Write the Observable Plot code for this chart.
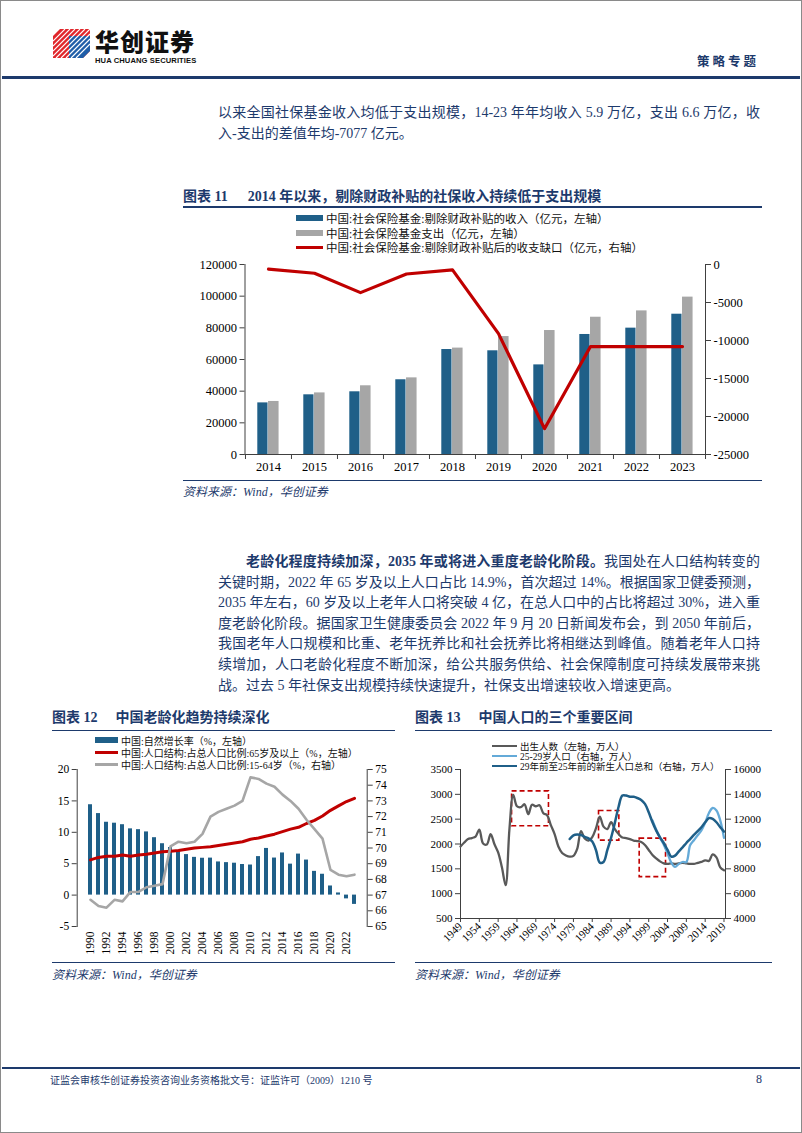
<!DOCTYPE html>
<html lang="zh-CN">
<head>
<meta charset="utf-8">
<script src="https://cdn.jsdelivr.net/npm/d3@7"></script>
<script src="https://cdn.jsdelivr.net/npm/@observablehq/plot@0.6"></script>
<style>
html,body{margin:0;padding:0;background:#fff;}
#page{position:relative;width:802px;height:1133px;overflow:hidden;background:#fff;
  font-family:"Liberation Serif","Noto Sans CJK SC",serif;color:#1d3a6c;}
.frame{position:absolute;left:0;top:0;width:802px;height:1133px;box-sizing:border-box;border:1px solid #8a8a8a;pointer-events:none;z-index:20;}
.abs{position:absolute;white-space:nowrap;}
.rule{position:absolute;background:#1d3a6c;}
.p{position:absolute;left:218px;width:542px;font-size:14px;line-height:20px;height:20px;}
.j{text-align:justify;text-align-last:justify;}
.ttl{position:absolute;font-size:14px;font-weight:bold;line-height:20px;white-space:nowrap;}
.src{position:absolute;font-size:12px;font-style:italic;line-height:14px;white-space:nowrap;}
.leg{position:absolute;display:flex;align-items:center;color:#111;white-space:nowrap;z-index:5;}
.sw{display:inline-block;margin-right:3px;}
.chart{position:absolute;z-index:2;}
.chart svg{overflow:visible;}
</style>
</head>
<body>
<div id="page">
  <div class="frame"></div>
  <!-- header -->
  <svg class="abs" style="left:53px;top:29px" width="38" height="30" viewBox="0 0 38 30">
    <polygon points="0,7 7,0 37,0 37,22 30,29 0,29" fill="#e0262b"/>
    <polygon points="16,7 37,7 37,22 30,29 16,29" fill="#1f5ea8"/>
    <g stroke="#fff" stroke-width="1.1">
      <line x1="0" y1="12" x2="12" y2="0"/><line x1="0" y1="17" x2="17" y2="0"/>
      <line x1="0" y1="22" x2="22" y2="0"/><line x1="0" y1="27" x2="27" y2="0"/>
      <line x1="3" y1="29" x2="32" y2="0"/><line x1="8" y1="29" x2="37" y2="0"/>
      <line x1="13" y1="29" x2="37" y2="5"/><line x1="18" y1="29" x2="37" y2="10"/>
      <line x1="23" y1="29" x2="37" y2="15"/>
    </g>
  </svg>
  <div class="abs" style="left:95px;top:28px;font-family:'Noto Sans CJK SC';font-weight:900;font-size:24px;line-height:26px;color:#111;letter-spacing:1px">华创证券</div>
  <div class="abs" style="left:95px;top:57px;font-family:'Liberation Sans';font-weight:bold;font-size:7.6px;line-height:8px;color:#111;letter-spacing:0.1px">HUA CHUANG SECURITIES</div>
  <div class="abs" style="left:697px;top:52px;font-family:'Noto Sans CJK SC';font-weight:bold;font-size:12.5px;line-height:18px;letter-spacing:3px;color:#1d3a6c">策略专题</div>
  <div class="rule" style="left:2px;top:76px;width:798px;height:2.5px"></div>

  <!-- paragraph 1 -->
  <div class="p j" style="top:103px">以来全国社保基金收入均低于支出规模，14-23 年年均收入 5.9 万亿，支出 6.6 万亿，收</div>
  <div class="p" style="top:123.5px">入-支出的差值年均-7077 亿元。</div>

  <!-- chart 11 -->
  <div class="ttl" style="left:183px;top:187px">图表 11<span style="margin-left:20px">2014 年以来，剔除财政补贴的社保收入持续低于支出规模</span></div>
  <div class="rule" style="left:183px;top:206px;width:579px;height:1.5px"></div>
  <div id="c11" class="chart" style="left:183px;top:255px"></div>
  <div class="leg" style="left:296px;top:211px;height:14px;font-size:11.5px"><span class="sw" style="width:27px;height:6px;background:#1f5f88"></span>中国:社会保险基金:剔除财政补贴的收入（亿元，左轴）</div>
  <div class="leg" style="left:296px;top:225.5px;height:14px;font-size:11.5px"><span class="sw" style="width:27px;height:6px;background:#a6a6a6"></span>中国:社会保险基金支出（亿元，左轴）</div>
  <div class="leg" style="left:296px;top:240px;height:14px;font-size:11.5px"><span class="sw" style="width:27px;height:3px;background:#c00000"></span>中国:社会保险基金:剔除财政补贴后的收支缺口（亿元，右轴）</div>
  <div class="rule" style="left:183px;top:480px;width:579px;height:1px"></div>
  <div class="src" style="left:183px;top:485px">资料来源：Wind，华创证券</div>

  <!-- paragraph 2 -->
  <div class="p j" style="top:552px"><span style="margin-left:28px;font-weight:bold">老龄化程度持续加深，2035 年或将进入重度老龄化阶段。</span>我国处在人口结构转变的</div>
  <div class="p j" style="top:572.6px">关键时期，2022 年 65 岁及以上人口占比 14.9%，首次超过 14%。根据国家卫健委预测，</div>
  <div class="p j" style="top:593.2px">2035 年左右，60 岁及以上老年人口将突破 4 亿，在总人口中的占比将超过 30%，进入重</div>
  <div class="p j" style="top:613.8px">度老龄化阶段。据国家卫生健康委员会 2022 年 9 月 20 日新闻发布会，到 2050 年前后，</div>
  <div class="p j" style="top:634.4px">我国老年人口规模和比重、老年抚养比和社会抚养比将相继达到峰值。随着老年人口持</div>
  <div class="p j" style="top:655px">续增加，人口老龄化程度不断加深，给公共服务供给、社会保障制度可持续发展带来挑</div>
  <div class="p" style="top:675.6px">战。过去 5 年社保支出规模持续快速提升，社保支出增速较收入增速更高。</div>

  <!-- chart 12 -->
  <div class="ttl" style="left:52px;top:708px">图表 12<span style="margin-left:18px">中国老龄化趋势持续深化</span></div>
  <div class="rule" style="left:52px;top:729.5px;width:343px;height:1.5px"></div>
  <div id="c12" class="chart" style="left:45px;top:761px"></div>
  <div class="leg" style="left:95px;top:734px;height:12px;font-size:10px"><span class="sw" style="width:23px;height:6px;background:#1f5f88"></span>中国:自然增长率（%，左轴）</div>
  <div class="leg" style="left:95px;top:746px;height:12px;font-size:10px"><span class="sw" style="width:23px;height:3px;background:#c00000"></span>中国:人口结构:占总人口比例:65岁及以上（%，左轴）</div>
  <div class="leg" style="left:95px;top:758px;height:12px;font-size:10px"><span class="sw" style="width:23px;height:3px;background:#a6a6a6"></span>中国:人口结构:占总人口比例:15-64岁（%，右轴）</div>
  <div class="rule" style="left:52px;top:962px;width:343px;height:1px"></div>
  <div class="src" style="left:52px;top:968px">资料来源：Wind，华创证券</div>

  <!-- chart 13 -->
  <div class="ttl" style="left:415px;top:708px">图表 13<span style="margin-left:18px">中国人口的三个重要区间</span></div>
  <div class="rule" style="left:415px;top:729.5px;width:357px;height:1.5px"></div>
  <div id="c13" class="chart" style="left:410px;top:761px"></div>
  <div class="leg" style="left:492px;top:740.5px;height:11px;font-size:9.5px"><span class="sw" style="width:25px;height:2.5px;background:#595959"></span>出生人数（左轴，万人）</div>
  <div class="leg" style="left:492px;top:750.5px;height:11px;font-size:9.5px"><span class="sw" style="width:25px;height:2.5px;background:#64aad8"></span>25-29岁人口（右轴，万人）</div>
  <div class="leg" style="left:492px;top:760.5px;height:11px;font-size:9.5px"><span class="sw" style="width:25px;height:2.5px;background:#1f5f88"></span>29年前至25年前的新生人口总和（右轴，万人）</div>
  <div class="rule" style="left:415px;top:962px;width:357px;height:1px"></div>
  <div class="src" style="left:415px;top:968px">资料来源：Wind，华创证券</div>

  <!-- footer -->
  <div class="rule" style="left:2px;top:1067px;width:798px;height:2px"></div>
  <div class="abs" style="left:50px;top:1074px;font-size:10px;line-height:13px">证监会审核华创证券投资咨询业务资格批文号：证监许可（2009）1210 号</div>
  <div class="abs" style="left:756px;top:1072px;font-size:12px;line-height:15px">8</div>
</div>

<script>
// ---------- Chart 11 data ----------
const years11 = ["2014","2015","2016","2017","2018","2019","2020","2021","2022","2023"];
const income11 = [32600, 37700, 39600, 47200, 66300, 65500, 56600, 75800, 79800, 88600];
const expense11 = [33500, 38900, 43400, 48400, 67200, 74500, 78300, 86700, 90700, 99400];
const gap11 = [-600, -1150, -3700, -1250, -700, -9100, -21600, -10800, -10800, -10800];
const leftTicks11 = [0, 20000, 40000, 60000, 80000, 100000, 120000];
const rightTicks11 = [0, -5000, -10000, -15000, -20000, -25000];

// ---------- Chart 12 data ----------
const years12 = [1990,1991,1992,1993,1994,1995,1996,1997,1998,1999,2000,2001,2002,2003,2004,2005,2006,2007,2008,2009,2010,2011,2012,2013,2014,2015,2016,2017,2018,2019,2020,2021,2022,2023];
const growth12 = [14.39,12.98,11.60,11.45,11.21,10.55,10.42,10.06,9.14,8.18,7.58,6.95,6.45,6.01,5.87,5.89,5.28,5.17,5.08,4.87,4.79,6.13,7.43,5.90,6.71,4.93,6.53,5.58,3.78,3.32,1.45,0.34,-0.60,-1.48];
const old65_12 = [5.6,6.0,6.2,6.2,6.4,6.2,6.4,6.5,6.7,6.9,7.0,7.1,7.3,7.5,7.6,7.7,7.9,8.1,8.3,8.5,8.9,9.1,9.4,9.7,10.1,10.5,10.8,11.4,11.9,12.6,13.5,14.2,14.9,15.4];
const work12 = [66.7,66.3,66.2,66.7,66.6,67.2,67.2,67.5,67.6,67.7,70.1,70.4,70.3,70.4,70.9,72.0,72.3,72.5,72.7,73.0,74.5,74.4,74.1,73.9,73.4,73.0,72.5,71.8,71.2,70.6,68.6,68.3,68.2,68.3];
const leftTicks12 = [-5, 0, 5, 10, 15, 20];
const rightTicks12 = [65, 66, 67, 68, 69, 70, 71, 72, 73, 74, 75];
const labelYears12 = [1990,1992,1994,1996,1998,2000,2002,2004,2006,2008,2010,2012,2014,2016,2018,2020,2022];

// ---------- Chart 13 data ----------
const birthYears13 = [1949,1950,1951,1952,1953,1954,1955,1956,1957,1958,1959,1960,1961,1962,1963,1964,1965,1966,1967,1968,1969,1970,1971,1972,1973,1974,1975,1976,1977,1978,1979,1980,1981,1982,1983,1984,1985,1986,1987,1988,1989,1990,1991,1992,1993,1994,1995,1996,1997,1998,1999,2000,2001,2002,2003,2004,2005,2006,2007,2008,2009,2010,2011,2012,2013,2014,2015,2016,2017,2018,2019];
const births13 = [1950,2030,2100,2120,2150,2290,2010,1990,2200,2000,1830,1530,1170,2300,2990,2760,2740,2800,2600,2790,2760,2780,2620,2580,2380,2200,1950,1820,1770,1745,1760,1900,2260,2110,2070,2140,2320,2550,2350,2300,2440,2300,2200,2130,2120,2100,2070,2060,2040,1980,1880,1780,1710,1650,1610,1600,1610,1600,1610,1620,1610,1600,1600,1620,1640,1670,1660,1790,1730,1530,1470];
const sumYears13 = [1978,1979,1980,1981,1982,1983,1984,1985,1986,1987,1988,1989,1990,1991,1992,1993,1994,1995,1996,1997,1998,1999,2000,2001,2002,2003,2004,2005,2006,2007,2008,2009,2010,2011,2012,2013,2014,2015,2016,2017,2018,2019];
const sum13 = [10400,10700,10760,10720,10580,10450,10200,9500,8500,8550,9500,10500,11700,13000,13900,13900,13800,13800,13700,13550,13230,12560,11750,11080,10540,10080,9520,8980,9060,9410,9730,10080,10400,10730,11030,11350,11750,12080,12020,11750,11350,11000];
const ageYears13 = [2000,2001,2002,2003,2004,2005,2006,2007,2008,2009,2010,2011,2012,2013,2014,2015,2016,2017,2018,2019];
const age2529_13 = [11900,11150,10500,9950,9250,8500,8150,8400,8550,8550,9900,10300,10700,11100,11700,12500,12900,12700,11900,10500];
const leftTicks13 = [500, 1000, 1500, 2000, 2500, 3000, 3500];
const rightTicks13 = [4000, 6000, 8000, 10000, 12000, 14000, 16000];
const xTicks13 = [1949,1954,1959,1964,1969,1974,1979,1984,1989,1994,1999,2004,2009,2014,2019];
// highlighted intervals (dashed boxes): year span and left-axis value span
const boxYear1 = [1962.7, 1985.8, 1996.6];
const boxYear2 = [1972.5, 1991.2, 2003.6];
const boxLow = [2357, 2068, 1334];
const boxHigh = [3060, 2665, 2108];

// ---------- styling ----------
const BLUE = "#1f5f88", GRAY = "#a6a6a6", RED = "#c00000", DGRAY = "#595959", LBLUE = "#64aad8", AXIS = "#404040";
const baseStyle = {fontFamily: "'Liberation Serif', 'Noto Sans CJK SC', serif", color: "#000", background: "transparent", overflow: "visible"};

// ---------- Chart 11 ----------
{
  const W = 579, H = 225, mL = 61.5, mR = 57;
  const k = 120000 / 25000;
  const toL = r => (r + 25000) * k;
  const rows = years11.map((y, i) => ({year: y, income: income11[i], expense: expense11[i], gap: gap11[i]}));
  const bw = (W - mL - mR) / years11.length;
  const p = Plot.plot({
    width: W, height: H, marginLeft: mL, marginRight: mR, marginTop: 9, marginBottom: 26,
    x: {type: "band", domain: years11, padding: 0},
    y: {domain: [0, 120000]},
    style: {...baseStyle, fontSize: "12.5px"},
    marks: [
      Plot.barY(rows, {x: "year", y: "income", fill: BLUE, insetLeft: bw * 0.267, insetRight: bw * 0.51}),
      Plot.barY(rows, {x: "year", y: "expense", fill: GRAY, insetLeft: bw * 0.5, insetRight: bw * 0.27}),
      Plot.frame({anchor: "left", stroke: AXIS}),
      Plot.frame({anchor: "right", stroke: AXIS}),
      Plot.ruleY([0], {stroke: AXIS}),
      Plot.axisY(leftTicks11, {anchor: "left", tickSize: 5, tickPadding: 3, stroke: AXIS, tickFormat: d => String(d), label: null}),
      Plot.axisY(rightTicks11.map(toL), {anchor: "right", tickSize: 5, tickPadding: 3, stroke: AXIS, tickFormat: v => String(Math.round(v / k - 25000)), label: null}),
      Plot.axisX({tickSize: 0, tickPadding: 8, label: null}),
      Plot.axisX({tickSize: 5, stroke: AXIS, tickFormat: () => "", dx: -bw / 2, label: null}),
      Plot.axisX([years11[years11.length - 1]], {tickSize: 5, stroke: AXIS, tickFormat: () => "", dx: bw / 2, label: null}),
      Plot.line(rows, {x: "year", y: d => toL(d.gap), stroke: RED, strokeWidth: 3.2})
    ]
  });
  document.getElementById("c11").appendChild(p);
}

// ---------- Chart 12 ----------
{
  const toL = r => (r - 65) * 2.5 - 5;
  const rows = years12.map((y, i) => ({year: y, growth: growth12[i], old: old65_12[i], work: work12[i]}));
  const p = Plot.plot({
    width: 350, height: 200, marginLeft: 31.7, marginRight: 28.3, marginTop: 8, marginBottom: 35,
    x: {type: "band", domain: years12, paddingInner: 0.45, paddingOuter: 0.12},
    y: {domain: [-5, 20]},
    style: {...baseStyle, fontSize: "11.5px"},
    marks: [
      Plot.barY(rows, {x: "year", y: "growth", fill: BLUE}),
      Plot.frame({anchor: "left", stroke: AXIS}),
      Plot.frame({anchor: "right", stroke: AXIS}),
      Plot.axisY(leftTicks12, {anchor: "left", tickSize: 5, tickPadding: 3, stroke: AXIS, tickFormat: d => String(d), label: null}),
      Plot.axisY(rightTicks12.map(toL), {anchor: "right", tickSize: 5, tickPadding: 3, stroke: AXIS, tickFormat: v => String(Math.round((v + 5) / 2.5 + 65)), label: null}),
      Plot.axisX(labelYears12, {tickSize: 0, tickPadding: 5, tickRotate: -90, tickFormat: d => String(d), label: null}),
      Plot.line(rows, {x: "year", y: "old", stroke: RED, strokeWidth: 3}),
      Plot.line(rows, {x: "year", y: d => toL(d.work), stroke: GRAY, strokeWidth: 2.6})
    ]
  });
  document.getElementById("c12").appendChild(p);
}

// ---------- Chart 13 ----------
{
  const toL = r => (r - 2000) / 4;
  const births = birthYears13.map((y, i) => ({year: y, v: births13[i]}));
  const sums = sumYears13.map((y, i) => ({year: y, v: toL(sum13[i])}));
  const ages = ageYears13.map((y, i) => ({year: y, v: toL(age2529_13[i])}));
  const boxes = boxYear1.map((x, i) => ({x1: x, x2: boxYear2[i], y1: boxLow[i], y2: boxHigh[i]}));
  const p = Plot.plot({
    width: 365, height: 200, marginLeft: 50, marginRight: 50, marginTop: 8, marginBottom: 43,
    x: {domain: [1949, 2019.4]},
    y: {domain: [500, 3500]},
    style: {...baseStyle, fontSize: "11px"},
    marks: [
      Plot.frame({anchor: "left", stroke: AXIS}),
      Plot.frame({anchor: "right", stroke: AXIS}),
      Plot.frame({anchor: "bottom", stroke: AXIS}),
      Plot.axisY(leftTicks13, {anchor: "left", tickSize: 5, tickPadding: 3, stroke: AXIS, tickFormat: d => String(d), label: null}),
      Plot.axisY(rightTicks13.map(toL), {anchor: "right", tickSize: 5, tickPadding: 3, stroke: AXIS, tickFormat: v => String(Math.round(v * 4 + 2000)), label: null}),
      Plot.axisX(xTicks13, {tickSize: 4, tickPadding: 2, stroke: AXIS, tickRotate: -45, tickFormat: d => String(d), label: null}),
      Plot.rect(boxes, {x1: "x1", x2: "x2", y1: "y1", y2: "y2", fill: "none", stroke: RED, strokeWidth: 1.6, strokeDasharray: "5,3"}),
      Plot.line(births, {x: "year", y: "v", stroke: DGRAY, strokeWidth: 2.3, curve: "catmull-rom"}),
      Plot.line(ages, {x: "year", y: "v", stroke: LBLUE, strokeWidth: 2.3, curve: "catmull-rom"}),
      Plot.line(sums, {x: "year", y: "v", stroke: BLUE, strokeWidth: 2.5, curve: "catmull-rom"})
    ]
  });
  document.getElementById("c13").appendChild(p);
}
</script>
</body>
</html>
